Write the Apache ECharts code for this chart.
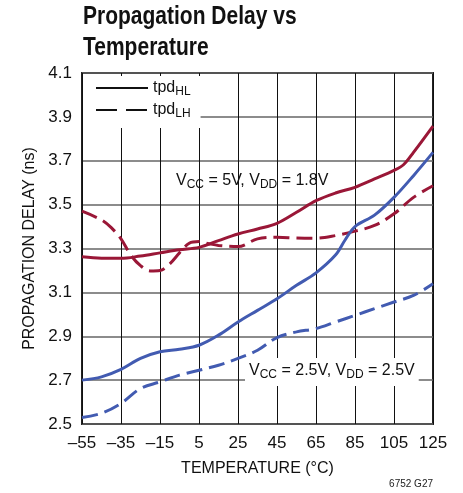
<!DOCTYPE html>
<html>
<head>
<meta charset="utf-8">
<script src="https://cdn.jsdelivr.net/npm/echarts@6/dist/echarts.min.js"></script>
<style>
  html, body { margin: 0; padding: 0; background: #fff; }
  #chart { width: 463px; height: 493px; }
</style>
</head>
<body>
<div id="chart"></div>
<script>
// temperature (°C) / delay (ns) pairs
const hl5Temp = [-55, -45, -35, -25, -15, -5, 5, 15, 25, 35, 45, 55, 65, 75, 85, 95, 105, 110, 115, 125];
const hl5Delay = [3.262, 3.256, 3.255, 3.266, 3.28, 3.294, 3.305, 3.336, 3.366, 3.389, 3.415, 3.465, 3.518, 3.553, 3.579, 3.617, 3.656, 3.683, 3.738, 3.858];

const lh5Temp = [-55, -45, -40, -35, -30, -25, -20, -15, -10, -5, 0, 5, 10, 15, 25, 35, 45, 55, 65, 75, 85, 95, 105, 115, 125];
const lh5Delay = [3.47, 3.43, 3.395, 3.344, 3.27, 3.222, 3.198, 3.2, 3.23, 3.28, 3.324, 3.332, 3.322, 3.314, 3.309, 3.344, 3.351, 3.348, 3.347, 3.359, 3.379, 3.405, 3.458, 3.533, 3.586];

const hl25Temp = [-55, -45, -35, -25, -15, -5, 5, 15, 25, 35, 45, 55, 65, 75, 80, 85, 95, 105, 115, 125];
const hl25Delay = [2.70, 2.715, 2.749, 2.799, 2.829, 2.841, 2.859, 2.905, 2.965, 3.018, 3.071, 3.132, 3.189, 3.27, 3.34, 3.4, 3.452, 3.533, 3.632, 3.738];

const lh25Temp = [-55, -45, -35, -25, -15, -5, 5, 15, 25, 35, 45, 55, 65, 75, 85, 95, 105, 115, 125];
const lh25Delay = [2.53, 2.549, 2.594, 2.662, 2.692, 2.723, 2.745, 2.768, 2.799, 2.836, 2.894, 2.92, 2.935, 2.965, 2.995, 3.026, 3.056, 3.086, 3.139];

const tempTicks = [-55, 125, 20];   // min, max, step
const delayTicks = [2.5, 4.1, 0.2];

const FONT = '"Liberation Sans Narrow", "Liberation Sans", Arial, sans-serif';
const RED = '#9a1737';
const BLUE = '#425bb1';
const DASH = [16, 7];

function pairs(xs, ys) {
    return xs.map((x, i) => [x, ys[i]]);
}

function curve(name, xs, ys, color, dashed) {
    return {
        name: name,
        type: 'line',
        data: pairs(xs, ys),
        smooth: 0.35,
        symbol: 'none',
        silent: true,
        lineStyle: { color: color, width: 3, type: dashed ? DASH : 'solid' },
        z: 3
    };
}

const subRich = {
    a: { fontFamily: FONT, fontSize: 16, fill: '#111', color: '#111' },
    b: { fontFamily: FONT, fontSize: 12, fill: '#111', color: '#111', padding: [8, 0, 0, 0] }
};

let chart = echarts.init(document.getElementById('chart'));

chart.setOption({
    animation: false,
    textStyle: { fontFamily: FONT },
    grid: {
        left: 82, top: 73, right: 30, bottom: 69,
        show: true,
        borderColor: '#222',
        borderWidth: 2
    },
    legend: {
        left: 83,
        top: 76,
        orient: 'vertical',
        backgroundColor: '#fff',
        padding: [4, 10, 8, 12],
        itemGap: 4,
        itemWidth: 52,
        itemHeight: 16,
        itemStyle: { color: 'rgba(0,0,0,0)', borderWidth: 0 },
        data: ['tpdHL', 'tpdLH'],
        formatter: function (name) {
            return '{a|tpd}{b|' + name.slice(3) + '}';
        },
        textStyle: { color: '#111', rich: subRich }
    },
    xAxis: {
        type: 'value',
        min: tempTicks[0],
        max: tempTicks[1],
        interval: tempTicks[2],
        name: 'TEMPERATURE (°C)',
        nameLocation: 'middle',
        nameGap: 37,
        nameTextStyle: { fontFamily: FONT, fontSize: 16, color: '#111' },
        axisLine: { show: false },
        axisTick: { show: false },
        axisLabel: {
            fontFamily: FONT, fontSize: 17, color: '#111', margin: 11,
            formatter: v => String(v).replace('-', '–')
        },
        splitLine: { show: true, lineStyle: { color: '#111', width: 1 } }
    },
    yAxis: {
        type: 'value',
        min: delayTicks[0],
        max: delayTicks[1],
        interval: delayTicks[2],
        name: 'PROPAGATION DELAY (ns)',
        nameLocation: 'middle',
        nameGap: 43,
        nameTextStyle: { fontFamily: FONT, fontSize: 16, color: '#111' },
        axisLine: { show: false },
        axisTick: { show: false },
        axisLabel: {
            fontFamily: FONT, fontSize: 17, color: '#111', margin: 10,
            formatter: v => v.toFixed(1)
        },
        splitLine: { show: true, lineStyle: { color: '#666', width: 1.5 } }
    },
    graphic: [
        {
            // title, squeezed to look like the condensed face of the original
            type: 'text',
            x: 83,
            y: 2,
            scaleX: 0.84,
            style: {
                text: 'Propagation Delay vs\nTemperature',
                fontFamily: '"Liberation Sans", Arial, sans-serif',
                fontSize: 25,
                fontWeight: 'bold',
                lineHeight: 31,
                fill: '#111'
            }
        },
        {
            type: 'text',
            left: 176,
            top: 173,
            z: 10,
            style: {
                text: '{a|V}{b|CC}{a| = 5V, V}{b|DD}{a| = 1.8V}',
                rich: subRich
            }
        },
        {
            type: 'text',
            left: 245,
            top: 358,
            z: 10,
            style: {
                text: '{a|V}{b|CC}{a| = 2.5V, V}{b|DD}{a| = 2.5V}',
                backgroundColor: '#fff',
                padding: [3, 4, 5, 4],
                rich: subRich
            }
        },
        {
            type: 'text',
            right: 30,
            bottom: 4,
            style: { text: '6752 G27', fontFamily: FONT, fontSize: 10, fill: '#222' }
        }
    ],
    series: [
        curve('hl5', hl5Temp, hl5Delay, RED, false),
        curve('lh5', lh5Temp, lh5Delay, RED, true),
        curve('hl25', hl25Temp, hl25Delay, BLUE, false),
        curve('lh25', lh25Temp, lh25Delay, BLUE, true),
        // legend-only entries (black keys)
        { name: 'tpdHL', type: 'line', data: [], symbol: 'none', lineStyle: { color: '#111', width: 3, type: 'solid' }, itemStyle: { color: '#111' } },
        { name: 'tpdLH', type: 'line', data: [], symbol: 'none', lineStyle: { color: '#111', width: 3, type: [21, 9] }, itemStyle: { color: '#111' } }
    ]
});
</script>
</body>
</html>
